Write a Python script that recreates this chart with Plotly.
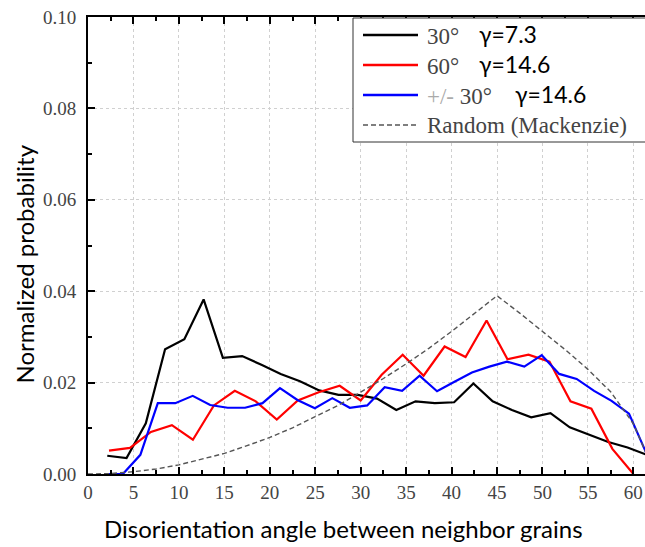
import plotly.graph_objects as go

# ---- data ----
x_30 = [2.12, 4.24, 6.36, 8.48, 10.60, 12.72, 14.84, 16.96, 19.08, 21.20,
        23.32, 25.44, 27.56, 29.68, 31.80, 33.92, 36.04, 38.16, 40.28, 42.40,
        44.52, 46.64, 48.76, 50.88, 53.00, 55.12, 57.24, 59.36, 61.48]
y_30 = [0.0040, 0.0035, 0.0111, 0.0273, 0.0295, 0.0382, 0.0254, 0.0258, 0.0239, 0.0219,
        0.0203, 0.0183, 0.0173, 0.0173, 0.0165, 0.0140, 0.0159, 0.0155, 0.0157, 0.0198,
        0.0159, 0.0140, 0.0124, 0.0133, 0.0102, 0.0086, 0.0070, 0.0058, 0.0042]

x_60 = [2.31, 4.62, 6.92, 9.23, 11.54, 13.85, 16.15, 18.46, 20.77, 23.08,
        25.38, 27.69, 30.00, 32.31, 34.62, 36.92, 39.23, 41.54, 43.85, 46.15,
        48.46, 50.77, 53.08, 55.38, 57.69, 60.00]
y_60 = [0.0051, 0.0057, 0.0092, 0.0107, 0.0075, 0.0150, 0.0182, 0.0159, 0.0119, 0.0161,
        0.0179, 0.0193, 0.0161, 0.0217, 0.0261, 0.0215, 0.0279, 0.0256, 0.0336, 0.0251,
        0.0261, 0.0246, 0.0159, 0.0143, 0.0055, 0.0000]

x_pm30 = [1.92, 3.84, 5.76, 7.68, 9.60, 11.52, 13.44, 15.36, 17.28, 19.20,
          21.12, 23.04, 24.96, 26.88, 28.80, 30.72, 32.64, 34.56, 36.48, 38.40,
          40.32, 42.24, 44.16, 46.08, 48.00, 49.92, 51.84, 53.76, 55.68, 57.60,
          59.52, 61.44]
y_pm30 = [0.0000, 0.0000, 0.0042, 0.0155, 0.0155, 0.0171, 0.0151, 0.0145, 0.0145, 0.0155,
          0.0188, 0.0162, 0.0144, 0.0166, 0.0145, 0.0150, 0.0190, 0.0182, 0.0215, 0.0181,
          0.0202, 0.0222, 0.0235, 0.0246, 0.0235, 0.0260, 0.0219, 0.0208, 0.0182, 0.0160,
          0.0132, 0.0045]

x_rand = [0, 2.5, 5, 7.5, 10, 12.5, 15, 17.5, 20, 22.5, 25, 27.5, 30, 32.5, 35,
          37.5, 40, 42.5, 45, 47.5, 50, 52.5, 55, 57.5, 60, 61, 62, 62.8]
y_rand = [0.0000, 0.0001, 0.0005, 0.0011, 0.0020, 0.0032, 0.0045, 0.0062, 0.0080, 0.0101,
          0.0125, 0.0150, 0.0179, 0.0209, 0.0241, 0.0275, 0.0312, 0.0350, 0.0390, 0.0352,
          0.0313, 0.0272, 0.0229, 0.0180, 0.0110, 0.0062, 0.0018, 0.0000]

legend_angle = ['30°', '60°', '<span style="color:#aaaaaa">+/-</span> 30°', 'Random (Mackenzie)']
legend_gamma = ['γ=7.3', 'γ=14.6', 'γ=14.6', '']
x_ticks = [0, 5, 10, 15, 20, 25, 30, 35, 40, 45, 50, 55, 60]
y_ticks = [0.00, 0.02, 0.04, 0.06, 0.08, 0.10]

SERIF = "Liberation Serif"
SANS = "Lato"
colors = ["#000000", "#ff0000", "#0000ff", "#555555"]
dashes = ["solid", "solid", "solid", "5px,3px"]
widths = [2.2, 2.2, 2.2, 1.4]

# plot-area geometry in pixels (for the hand-drawn legend)
L, R, T, B = 88, 645, 17, 474
def px(xp):
    return (xp - L) / (R - L)
def py(yp):
    return (B - yp) / (B - T)

fig = go.Figure()
series = [(x_30, y_30), (x_60, y_60), (x_pm30, y_pm30), (x_rand, y_rand)]
for i, (xs, ys) in enumerate(series):
    fig.add_trace(go.Scatter(x=xs, y=ys, mode="lines", showlegend=False,
                             name=legend_angle[i],
                             line=dict(color=colors[i], width=widths[i], dash=dashes[i])))

shapes = [dict(type="rect", xref="paper", yref="paper",
               x0=px(353), x1=px(648), y0=py(142), y1=py(18),
               fillcolor="white", line=dict(color="#333333", width=1), layer="above")]
annotations = []
row_y = [35, 65, 95, 125]
gamma_x = [477, 477, 513, 0]
for i in range(4):
    shapes.append(dict(type="line", xref="paper", yref="paper",
                       x0=px(363), x1=px(418), y0=py(row_y[i]), y1=py(row_y[i]),
                       line=dict(color=colors[i], width=widths[i] + 0.3, dash=dashes[i]),
                       layer="above"))
    annotations.append(dict(text=legend_angle[i], xref="paper", yref="paper",
                            x=px(425), y=py(row_y[i] + 1), xanchor="left", yanchor="middle",
                            showarrow=False, font=dict(family=SERIF, size=23, color="#444444")))
    if legend_gamma[i]:
        annotations.append(dict(text=legend_gamma[i], xref="paper", yref="paper",
                                x=px(gamma_x[i]), y=py(row_y[i] - 1), xanchor="left", yanchor="middle",
                                showarrow=False, font=dict(family=SANS, size=23, color="#000000")))

annotations += [
    dict(text="Disorientation angle between neighbor grains", xref="paper", yref="paper",
         x=px(343.5), y=py(528), xanchor="center", yanchor="middle",
         showarrow=False, font=dict(family=SANS, size=24, color="#000")),
    dict(text="Normalized probability", xref="paper", yref="paper",
         x=px(23.5), y=py(264), xanchor="center", yanchor="middle",
         textangle=-90, showarrow=False, font=dict(family=SANS, size=24, color="#000")),
]

fig.update_layout(
    width=645, height=547,
    margin=dict(l=L, r=645 - R, t=T, b=547 - B),
    plot_bgcolor="white", paper_bgcolor="white",
    showlegend=False,
    shapes=shapes,
    annotations=annotations,
)
fig.update_xaxes(range=[0, 61.28], tickvals=x_ticks, ticktext=[str(v) for v in x_ticks],
                 showline=True, linecolor="#000", linewidth=2, mirror="allticks",
                 ticks="inside", ticklen=7, tickwidth=2, tickcolor="#000",
                 minor=dict(ticks="inside", ticklen=4, tickwidth=1.5, tickcolor="#000", dtick=2.5, tick0=0),
                 showgrid=True, gridcolor="#d0d0d0", griddash="dot", gridwidth=1,
                 tickfont=dict(family=SERIF, size=19, color="#444444"),
                 ticklabelstandoff=0, zeroline=False, automargin=False)
fig.update_yaxes(range=[0, 0.10], tickvals=y_ticks, ticktext=["%.2f" % v for v in y_ticks],
                 showline=True, linecolor="#000", linewidth=2,
                 ticks="inside", ticklen=7, tickwidth=2, tickcolor="#000",
                 minor=dict(ticks="inside", ticklen=4, tickwidth=1.5, tickcolor="#000", dtick=0.01, tick0=0),
                 showgrid=True, gridcolor="#d0d0d0", griddash="dot", gridwidth=1,
                 tickfont=dict(family=SERIF, size=19, color="#444444"),
                 ticklabelstandoff=6, zeroline=False, automargin=False)

fig.write_html("out.html", config={"displayModeBar": False},
               post_script="document.body.style.margin='0';")
